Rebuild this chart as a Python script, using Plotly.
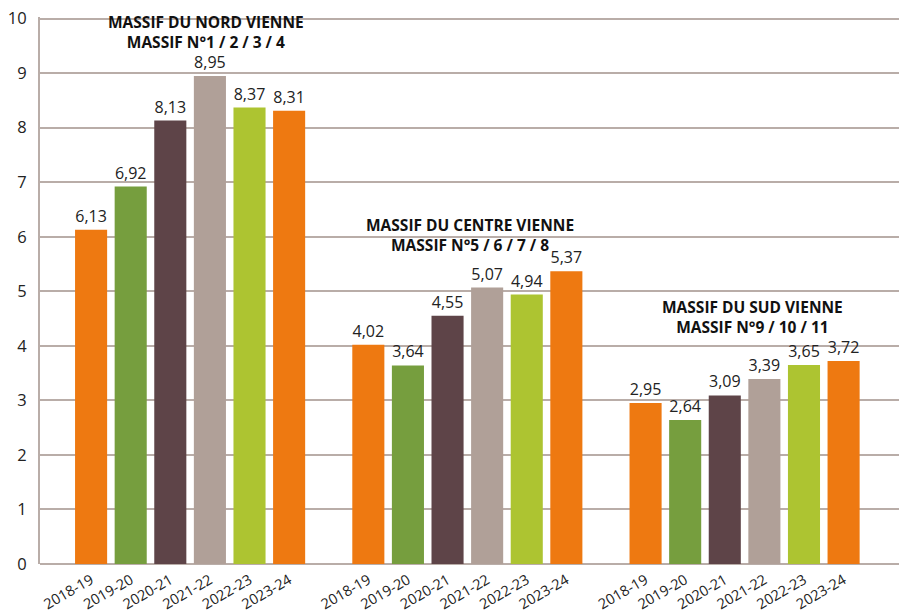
import plotly.graph_objects as go

seasons = ["2018-19", "2019-20", "2020-21", "2021-22", "2022-23", "2023-24"]
groups = ["MASSIF DU NORD VIENNE<br>MASSIF N°1 / 2 / 3 / 4",
          "MASSIF DU CENTRE VIENNE<br>MASSIF N°5 / 6 / 7 / 8",
          "MASSIF DU SUD VIENNE<br>MASSIF N°9 / 10 / 11"]
nord = [6.13, 6.92, 8.13, 8.95, 8.37, 8.31]
centre = [4.02, 3.64, 4.55, 5.07, 4.94, 5.37]
sud = [2.95, 2.64, 3.09, 3.39, 3.65, 3.72]
colors = ["#EE7911", "#769E3E", "#5E4448", "#B0A098", "#ADC431", "#EE7911"]

title_x = [2.9, 9.57, 16.7]
title_y = [9.76, 6.03, 4.53]

fig = go.Figure()
xs, ys, txt, cols, ticks = [], [], [], [], []
for gi, vals in enumerate([nord, centre, sud]):
    for si, v in enumerate(vals):
        xs.append(gi * 7 + si)
        ys.append(v)
        txt.append(f"{v:.2f}".replace(".", ","))
        cols.append(colors[si])
        ticks.append(seasons[si])

fig.add_trace(go.Bar(x=xs, y=ys, text=txt, textposition="outside",
                     marker=dict(color=cols, line=dict(width=0)),
                     width=0.81, cliponaxis=False,
                     textfont=dict(size=16, color="#222222", family="Open Sans")))

for g, tx, ty in zip(groups, title_x, title_y):
    fig.add_annotation(x=tx, y=ty, text=f"<b>{g}</b>", showarrow=False,
                       font=dict(size=15.5, color="#111111", family="Open Sans", weight=800),
                       xanchor="center", yanchor="middle")

fig.update_layout(
    width=899, height=608,
    margin=dict(l=32, r=4, t=9, b=52, autoexpand=False),
    paper_bgcolor="white", plot_bgcolor="white",
    showlegend=False,
    font=dict(family="Open Sans", color="#222222"),
    xaxis=dict(range=[-1.29, 20.5], tickmode="array", tickvals=xs, ticktext=ticks,
               tickangle=-30, showgrid=False, zeroline=False, showline=False,
               automargin=False,
               tickfont=dict(size=14.5, color="#222222"), ticks="",
               ticklabelstandoff=4),
    yaxis=dict(range=[0, 10.03], tickmode="array", tickvals=list(range(11)),
               showgrid=True, gridcolor="#B9ADA8", gridwidth=2,
               zeroline=True, zerolinecolor="#B9ADA8", zerolinewidth=2,
               showline=True, linecolor="#B9ADA8", linewidth=2,
               automargin=False, ticklabeloverflow="allow",
               tickfont=dict(size=16.5, color="#222222"), ticks="", ticklabelstandoff=8),
)

fig.write_html("out.html")
